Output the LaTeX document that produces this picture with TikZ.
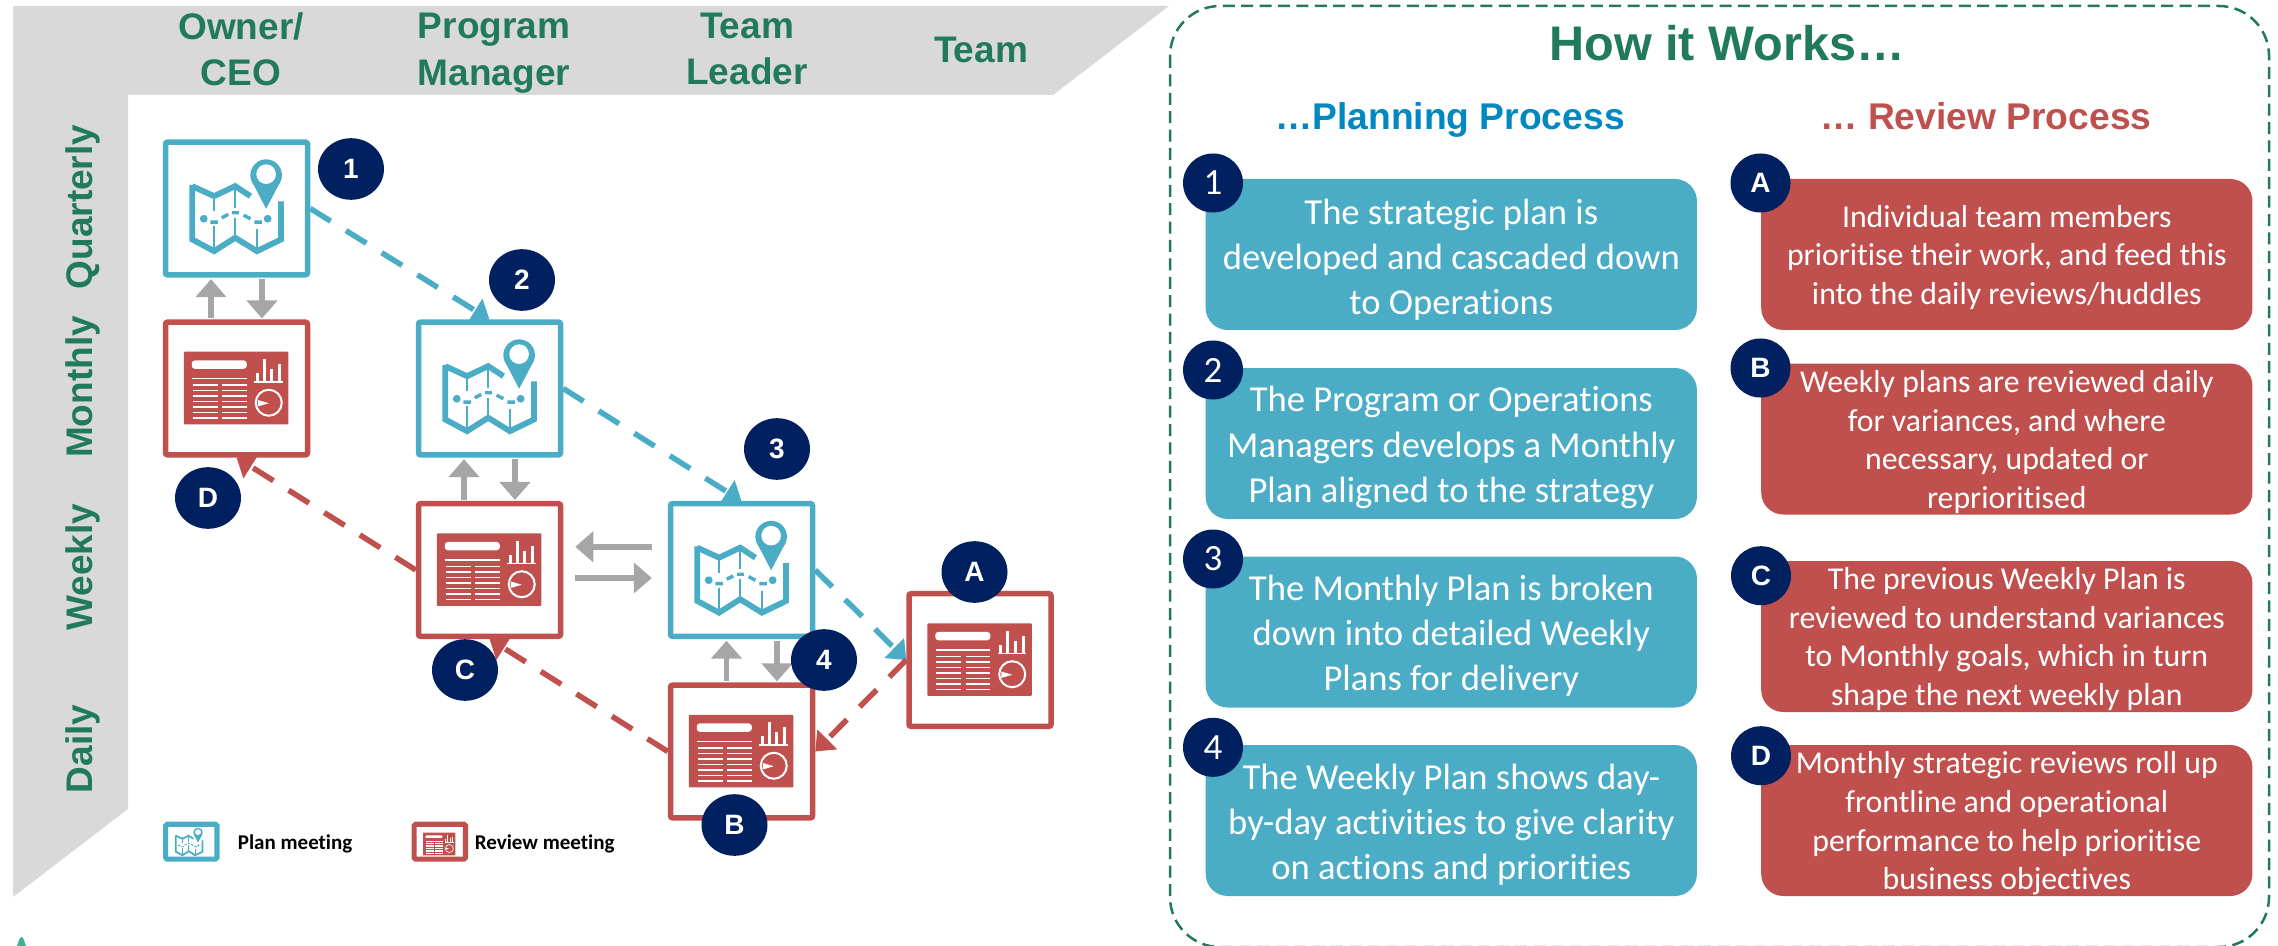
\documentclass[tikz,border=0pt]{standalone}
\usepackage{fontspec}
\setmainfont{Liberation Sans}
\newfontfamily\bodyfont[Ligatures=NoCommon]{Carlito}
\usetikzlibrary{arrows.meta,backgrounds,shapes.geometric}
\definecolor{planc}{HTML}{4BACC6}
\definecolor{revc}{HTML}{C0504D}
\definecolor{navy}{HTML}{002060}
\definecolor{hgreen}{HTML}{217A5B}
\definecolor{hblue}{HTML}{0088C2}
\definecolor{greyband}{HTML}{D9D9D9}
\definecolor{arrowgray}{HTML}{A6A6A6}
\definecolor{tealtip}{HTML}{3CB29A}
\newcommand\mapicon[2]{\begin{scope}[shift={(#1)},scale=#2]
 \draw[planc,line width=#2*2.9pt] (29.5,46.7) -- (51.3,56.7) -- (72.4,46.7) -- (87.7,56.7);
 \draw[planc,line width=#2*2.9pt] (118.3,62) -- (118.3,100) -- (94.2,111.7) -- (72.4,98.3) -- (51.3,111.7) -- (29.5,100) -- (29.5,45.5);
 \draw[planc,line width=#2*1.1pt] (51.3,56.7) -- (51.3,71.7) (51.3,86.7) -- (51.3,110) (72.4,48.3) -- (72.4,68.3) (72.4,78.3) -- (72.4,96.7) (94.2,90) -- (94.2,110);
 \fill[planc] (41,79.3) circle (3.9) (104.9,79.3) circle (3.9);
 \draw[planc,line width=#2*1.7pt] (47.5,82.7) -- (55.1,82.7) (59,78.3) -- (65.5,75) (69.3,73.3) -- (76.2,73.3) (80.8,75.7) -- (87.7,79.3) (91.5,82.7) -- (99.2,82.7);
 \fill[planc] (103.4,35.7) circle (15.8);
 \fill[planc] (89.6,42.9) -- (117.2,42.9) -- (103.4,69.3) -- cycle;
 \fill[white] (103.4,34.7) circle (9.8);
\end{scope}}
\newcommand\reporticon[2]{\begin{scope}[shift={(#1)},scale=#2]
 \fill[revc,rounded corners=#2*0.5pt] (21,32.3) rectangle (125.6,105);
 \fill[white,rounded corners=#2*1.5pt] (29,41) rectangle (84,49.3);
 \draw[white,line width=#2*0.7pt] (29.5,59) -- (84,59);
 \foreach \yy in {65.5,71,76.5,82,87.5,93,98.5}{\draw[white,line width=#2*0.7pt] (30,\yy) -- (55,\yy) (59.7,\yy) -- (84,\yy);}
 \draw[white,line width=#2*0.8pt] (91.5,62.7) -- (120,62.7);
 \draw[white,line width=#2*1.6pt] (94.6,62.7) -- (94.6,54) (101.5,62.7) -- (101.5,40) (109,62.7) -- (109,50) (117,62.7) -- (117,45);
 \draw[white,line width=#2*1pt] (106,83.3) circle (13);
 \fill[white] (95,80.5) -- (106,83.8) -- (95,87) -- cycle;
\end{scope}}
\tikzset{
 x=0.5pt,y=-0.5pt,
 meetbox/.style={rectangle,line width=2.75pt,fill=white,minimum width=71pt,minimum height=66.3pt,inner sep=0pt,rounded corners=1pt},
 planbox/.style={meetbox,draw=planc},
 revbox/.style={meetbox,draw=revc},
 legendbox/.style={rectangle,line width=2.6pt,fill=white,minimum width=25.7pt,minimum height=17.4pt,inner sep=0pt,rounded corners=.8pt},
 badge/.style={ellipse,fill=navy,text=white,inner sep=0pt,font=\bfseries\fontsize{14}{16}\selectfont},
 bigbadge/.style={badge,minimum width=33pt,minimum height=30.8pt},
 numbadge/.style={badge,minimum width=30pt,minimum height=29.5pt,font=\bodyfont\fontsize{18.5}{20}\selectfont},
 letterbadge/.style={badge,minimum width=30pt,minimum height=29.5pt},
 grayarrow/.style={draw=arrowgray,line width=2.75pt,-{Triangle[length=9pt,width=15pt]}},
 plandash/.style={draw=planc,line width=2.75pt,dash pattern=on 12pt off 9pt,-{Triangle[length=8.5pt,width=13.5pt]}},
 revdash/.style={draw=revc,line width=2.75pt,dash pattern=on 12pt off 9pt,-{Triangle[length=8.5pt,width=13.5pt]}},
 axislabel/.style={text=hgreen,inner sep=0pt,align=center,font=\bfseries\fontsize{18.5}{23.2}\selectfont},
 sidelabel/.style={text=hgreen,inner sep=0pt,rotate=90,anchor=base,font=\bfseries\fontsize{18.5}{22}\selectfont},
 textcard/.style={rectangle,rounded corners=11pt,inner sep=0pt,minimum width=245.6pt,minimum height=75.5pt},
 plancard/.style={textcard,fill=planc},
 revcard/.style={textcard,fill=revc},
 plantext/.style={text=white,inner sep=0pt,align=center,font=\bodyfont\fontsize{18.3}{22.6}\selectfont},
 revtext/.style={text=white,inner sep=0pt,align=center,font=\bodyfont\fontsize{15.9}{19.3}\selectfont},
 legendtext/.style={inner sep=0pt,anchor=base west,font=\bodyfont\bfseries\fontsize{10.5}{12}\selectfont},
 headtitle/.style={inner sep=0pt,anchor=base,font=\bfseries\fontsize{18.6}{20}\selectfont},
}
\begin{document}
\begin{tikzpicture}
\useasboundingbox (0,0) rectangle (2278,946);
% grey band
\fill[greyband] (13,6) -- (1169,6) -- (1053,95) -- (128,95) -- (128,809) -- (13,897) -- cycle;
\fill[tealtip] (17,946) .. controls (19,940) and (20,937) .. (21.5,937) .. controls (23,937) and (24,940) .. (26,946) -- cycle;
% headers
\node[axislabel] (hOwner) at (241,49) {Owner/\\CEO};
\node[axislabel] (hProg) at (494,53) {Program\\Manager};
\node[axislabel] (hLead) at (747,49) {Team\\Leader};
\node[axislabel,anchor=base] (hTeam) at (981,63) {Team};
\node[sidelabel] (sQ) at (92,207) {Quarterly};
\node[sidelabel] (sM) at (92,387) {Monthly};
\node[sidelabel] (sW) at (92,567) {Weekly};
\node[sidelabel] (sD) at (92,749) {Daily};
% meeting boxes
\node[planbox] (b1) at (236.5,208.5) {};
\node[revbox] (bD) at (236.5,388.5) {};
\node[planbox] (b2) at (489.5,388.5) {};
\node[revbox] (bC) at (489.5,570) {};
\node[planbox] (b3) at (741.5,570) {};
\node[revbox] (bB) at (741.5,751.5) {};
\node[revbox] (bA) at (980,660) {};
\mapicon{b1.north west}{1}
\reporticon{bD.north west}{1}
\mapicon{b2.north west}{1}
\reporticon{bC.north west}{1}
\mapicon{b3.north west}{1}
\reporticon{bB.north west}{1}
\reporticon{bA.north west}{1}
% connectors
\begin{scope}[on background layer]
\draw[plandash] (b1.east) -- (b2.north);
\draw[plandash] (b2.east) -- (b3.north);
\draw[plandash] (b3.east) -- (bA.west);
\draw[revdash] (bA.west) -- (bB.east);
\draw[revdash] (bB.west) -- (bC.south);
\draw[revdash] (bC.west) -- (bD.south);
\end{scope}
\draw[grayarrow,shorten <=.5pt,shorten >=.8pt] ([xshift=-12.75pt]bD.north) -- ([xshift=-12.75pt]b1.south);
\draw[grayarrow,shorten <=.8pt,shorten >=.5pt] ([xshift=12.75pt]b1.south) -- ([xshift=12.75pt]bD.north);
\draw[grayarrow,shorten <=.5pt,shorten >=.8pt] ([xshift=-12.75pt]bC.north) -- ([xshift=-12.75pt]b2.south);
\draw[grayarrow,shorten <=.8pt,shorten >=.5pt] ([xshift=12.75pt]b2.south) -- ([xshift=12.75pt]bC.north);
\draw[grayarrow,shorten <=.5pt,shorten >=.8pt] ([xshift=-7.5pt]bB.north) -- ([xshift=-7.5pt]b3.south);
\draw[grayarrow,shorten <=.8pt,shorten >=.5pt] ([xshift=17.75pt]b3.south) -- ([xshift=17.75pt]bB.north);
\draw[grayarrow,shorten <=8pt,shorten >=6pt] ([yshift=11.6pt]b3.west) -- ([yshift=11.6pt]bC.east);
\draw[grayarrow,shorten <=6pt,shorten >=8pt] ([yshift=-4pt]bC.east) -- ([yshift=-4pt]b3.west);
% badges on diagram
\node[bigbadge] (n1) at (351,169) {1};
\node[bigbadge] (n2) at (522,280) {2};
\node[bigbadge] (n3) at (777,449) {3};
\node[bigbadge] (n4) at (824,660) {4};
\node[bigbadge] (nA) at (974.5,572) {A};
\node[bigbadge] (nB) at (734.5,825) {B};
\node[bigbadge] (nC) at (465,670) {C};
\node[bigbadge] (nD) at (208,498) {D};
% legend
\node[legendbox,draw=planc] (lp) at (191.3,841.7) {};
\mapicon{[xshift=2pt]lp.north west}{0.3}
\node[legendtext] (lpt) at (237.5,849) {Plan meeting};
\node[legendbox,draw=revc] (lr) at (439.8,841.7) {};
\reporticon{[xshift=2.5pt,yshift=-.5pt]lr.north west}{0.31}
\node[legendtext] (lrt) at (474.5,849) {Review meeting};
% right panel
\draw[hgreen,line width=1.25pt,dash pattern=on 6pt off 3.2pt,rounded corners=25pt] (1170,6) rectangle (2269,947);
\node[inner sep=0pt,anchor=base,text=hgreen,font=\bfseries\fontsize{24.3}{30}\selectfont] (title) at (1727,61) {How it Works…};
\node[headtitle,text=hblue] (tPlan) at (1450,130) {…Planning Process};
\node[headtitle,text=revc] (tRev) at (1986,130) {… Review Process};
\node[plancard] (p1) at (1451.3,254.5) {};
\node[plancard] (p2) at (1451.3,443.5) {};
\node[plancard] (p3) at (1451.3,632) {};
\node[plancard] (p4) at (1451.3,820.5) {};
\node[plantext] (pt1) at (1451.3,259.5) {The strategic plan is\\developed and cascaded down\\to Operations};
\node[plantext] (pt2) at (1451.3,447.5) {The Program or Operations\\Managers develops a Monthly\\Plan aligned to the strategy};
\node[plantext] (pt3) at (1451.3,636) {The Monthly Plan is broken\\down into detailed Weekly\\Plans for delivery};
\node[plantext] (pt4) at (1451.3,824.5) {The Weekly Plan shows day-\\by-day activities to give clarity\\on actions and priorities};
\node[revcard] (r1) at (2006.8,254.5) {};
\node[revcard] (r2) at (2006.8,439) {};
\node[revcard] (r3) at (2006.8,636.5) {};
\node[revcard] (r4) at (2006.8,820.5) {};
\node[revtext] (rt1) at (2006.8,257.5) {Individual team members\\prioritise their work, and feed this\\into the daily reviews/huddles};
\node[revtext] (rt2) at (2006.8,442) {Weekly plans are reviewed daily\\for variances, and where\\necessary, updated or\\reprioritised};
\node[revtext] (rt3) at (2006.8,639) {The previous Weekly Plan is\\reviewed to understand variances\\to Monthly goals, which in turn\\shape the next weekly plan};
\node[revtext] (rt4) at (2006.8,823.5) {Monthly strategic reviews roll up\\frontline and operational\\performance to help prioritise\\business objectives};
\node[numbadge] (c1) at (1213,183) {1};
\node[numbadge] (c2) at (1213,370) {2};
\node[numbadge] (c3) at (1213,559) {3};
\node[numbadge] (c4) at (1213,747.3) {4};
\node[letterbadge] (cA) at (1760.5,183) {A};
\node[letterbadge] (cB) at (1760.5,368) {B};
\node[letterbadge] (cC) at (1761,575.7) {C};
\node[letterbadge] (cD) at (1761,755.7) {D};
\end{tikzpicture}
\end{document}
